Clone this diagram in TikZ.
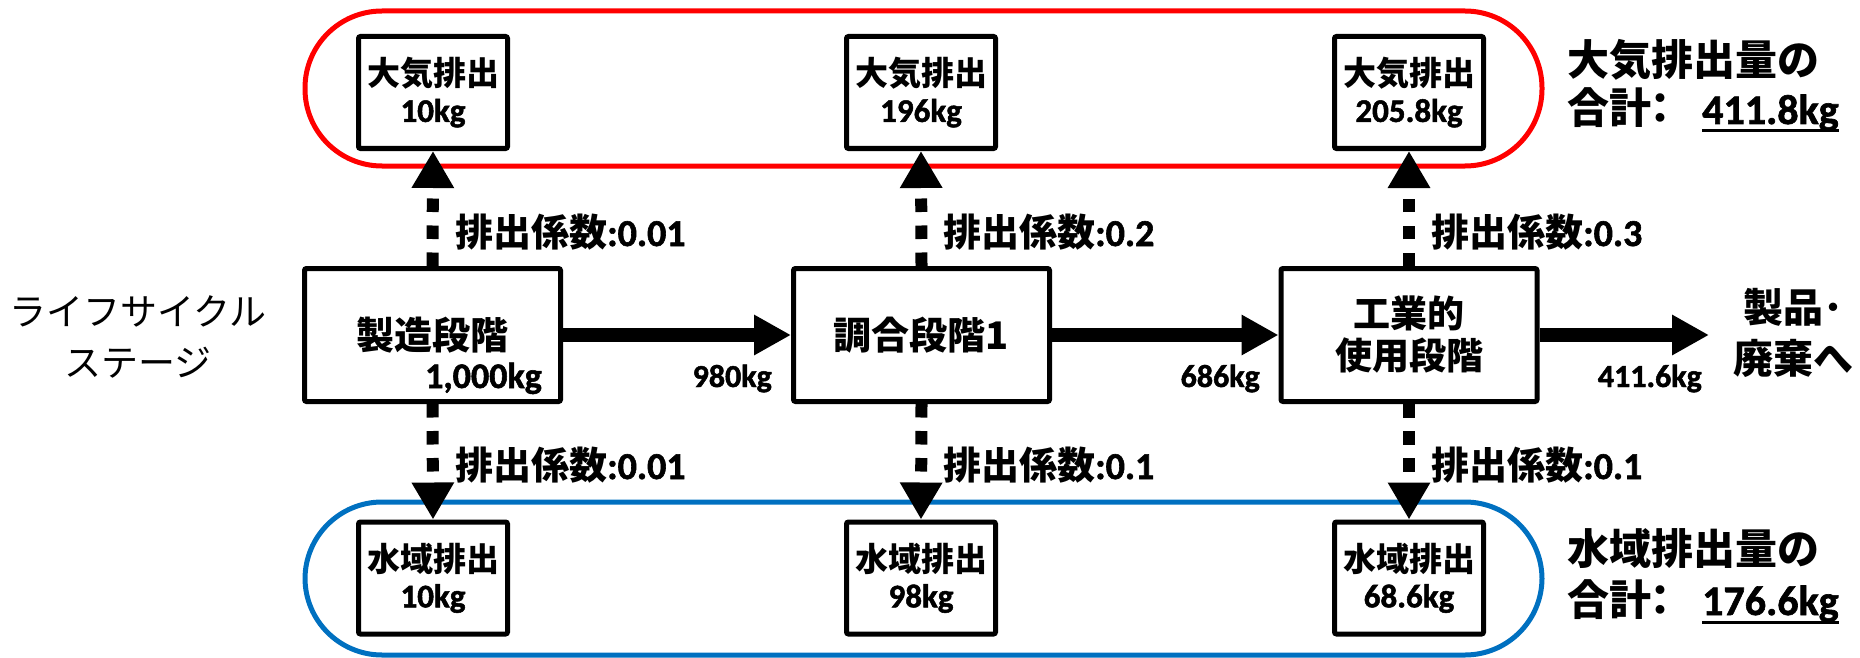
\documentclass[tikz,border=0pt]{standalone}
\usepackage{fontspec}
\setmainfont{Carlito}[BoldFont={Carlito Bold}, BoldFeatures={FakeBold=1.5}]
\newfontfamily\jp{Noto Sans CJK JP}
\usetikzlibrary{arrows.meta}
\definecolor{airred}{RGB}{255,0,0}
\definecolor{waterblue}{RGB}{0,112,192}
\newcommand\J[1]{{\jp #1}}
\newcommand\fsz[2]{\fontsize{#1}{#2}\selectfont}
\newcommand\myul[1]{\setbox0\hbox{#1}\rlap{\rule[-8.5pt]{\wd0}{3pt}}\box0}
\begin{document}
\begin{tikzpicture}[x=1pt,y=-1pt,
  emis/.style={draw, line width=5pt, fill=white, rounded corners=2pt, minimum width=149pt, minimum height=112pt, inner sep=0pt, align=center, font=\bfseries\fsz{33}{36}},
  stage/.style={draw, line width=5pt, fill=white, rounded corners=2pt, minimum width=256pt, minimum height=133pt, inner sep=0pt, align=center, font=\bfseries\fsz{38}{36}},
  txt/.style={inner sep=0pt, font=\bfseries\fsz{32}{36}},
  coef/.style={inner sep=0pt, anchor=base west, font=\bfseries\fsz{38}{40}},
  sumtxt/.style={inner sep=0pt, anchor=base west, font=\bfseries\fsz{42}{44}},
  flow/.style={line width=14pt, -{Triangle[length=37pt,width=38pt]}},
  emit/.style={line width=12pt, dash pattern=on 13.5pt off 13.5pt, -{Triangle[length=37pt,width=40pt]}},
  group/.style={line width=5pt, rounded corners=77pt},
]
\useasboundingbox (0,0) rectangle (1860,658);

% group outlines
\draw[group, airred] (305,11) rectangle (1542,166);
\draw[group, waterblue] (305,502) rectangle (1542,655);

% emission boxes
\node[emis] (t1) at (433,92.5) {\J{大気排出}\\10kg};
\node[emis] (t2) at (921,92.5) {\J{大気排出}\\196kg};
\node[emis] (t3) at (1409,92.5) {\J{大気排出}\\205.8kg};
\node[emis] (b1) at (433,578) {\J{水域排出}\\10kg};
\node[emis] (b2) at (921,578) {\J{水域排出}\\98kg};
\node[emis] (b3) at (1409,578) {\J{水域排出}\\68.6kg};

% stage boxes
\node[stage] (m1) at (432.5,335) {\J{製造段階}};
\node[stage] (m2) at (921.5,335) {\J{調合段階1}};
\node[stage, font=\bfseries\fsz{37}{42}] (m3) at (1409,335) {\J{工業的}\\\J{使用段階}};
\node[txt, anchor=base east, font=\bfseries\fsz{36}{36}] (q1) at (542,388) {1,000kg};

% emission arrows
\draw[emit] (m1.north) -- (t1.south);
\draw[emit] (m2.north) -- (t2.south);
\draw[emit] (m3.north) -- (t3.south);
\draw[emit] (m1.south) -- (b1.north);
\draw[emit] (m2.south) -- (b2.north);
\draw[emit] (m3.south) -- (b3.north);

% coefficient labels
\node[coef] (c1) at (455,246) {\J{排出係数}:0.01};
\node[coef] (c2) at (943,246) {\J{排出係数}:0.2};
\node[coef] (c3) at (1431,246) {\J{排出係数}:0.3};
\node[coef] (d1) at (455,479) {\J{排出係数}:0.01};
\node[coef] (d2) at (943,479) {\J{排出係数}:0.1};
\node[coef] (d3) at (1431,479) {\J{排出係数}:0.1};

% flow arrows
\coordinate (out) at (1709,335);
\draw[flow] (m1.east) -- (m2.west);
\draw[flow] (m2.east) -- (m3.west);
\draw[flow] (m3.east) -- (out);
\node[txt, anchor=base east] (f1) at (772,387) {980kg};
\node[txt, anchor=base east] (f2) at (1260,387) {686kg};
\node[txt, anchor=base east] (f3) at (1702,387) {411.6kg};

% side texts
\node[inner sep=0pt, align=center, font=\fsz{37}{51}] (life) at (138,336.5) {\J{ライフサイクル}\\\J{ステージ}};
\node[inner sep=0pt, align=center, font=\bfseries\fsz{40}{51}] (prod) at (1793,332.5) {\J{製品･}\\\J{廃棄へ}};

% totals
\node[sumtxt] (sa1) at (1567,76) {\J{大気排出量の}};
\node[sumtxt] (sa2) at (1567,124) {\J{合計}\hspace*{-12pt}\J{：}\hspace*{21pt}\myul{411.8kg}};
\node[sumtxt] (sw1) at (1567,564) {\J{水域排出量の}};
\node[sumtxt] (sw2) at (1567,615) {\J{合計}\hspace*{-12pt}\J{：}\hspace*{21pt}\myul{176.6kg}};
\end{tikzpicture}
\end{document}
